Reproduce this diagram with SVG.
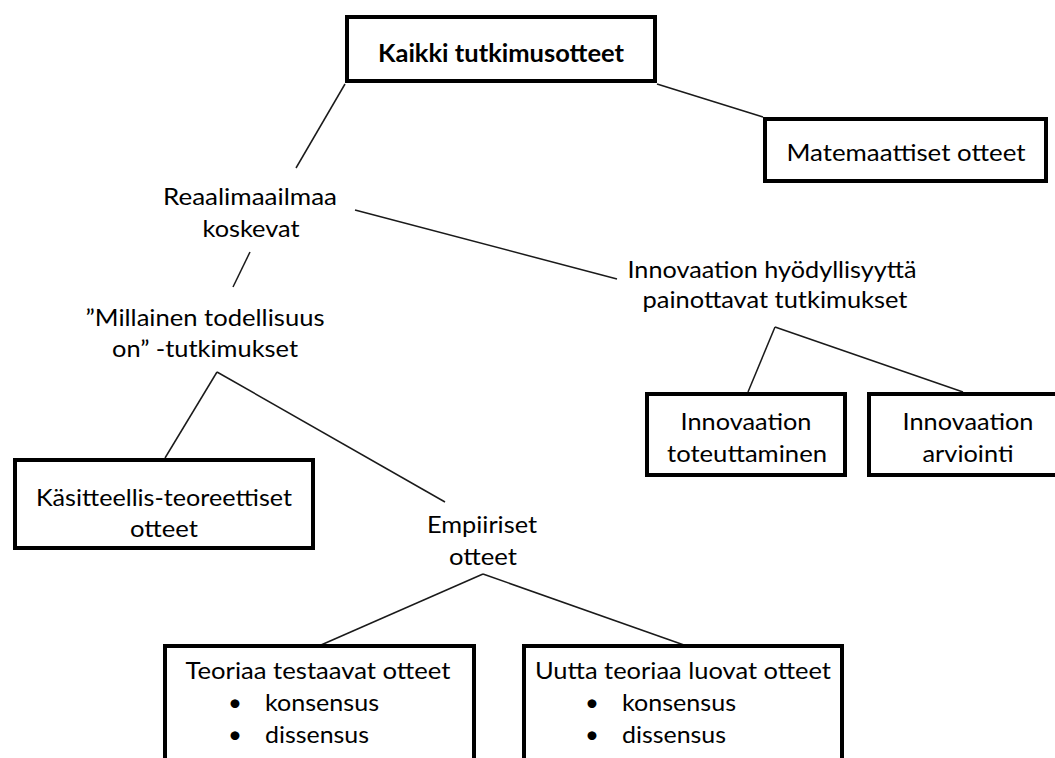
<svg xmlns="http://www.w3.org/2000/svg" width="1055" height="758" viewBox="0 0 1055 758">
<style>
.box{fill:#fff;stroke:#000;stroke-width:4}
.t{font-family:Lato,"Open Sans","Liberation Sans",sans-serif;font-size:24px;fill:#000;text-anchor:middle}
.b{font-weight:bold}
.s{text-anchor:start}
.ln{stroke:#1a1a1a;stroke-width:1.5;fill:none}
</style>
<rect width="1055" height="758" fill="#fff"/>
<g id="connectors">
<line class="ln" x1="345" y1="84" x2="296" y2="168"/>
<line class="ln" x1="657" y1="84" x2="763" y2="117"/>
<line class="ln" x1="355" y1="210" x2="617" y2="279"/>
<line class="ln" x1="250" y1="252" x2="233" y2="287"/>
<line class="ln" x1="217" y1="372" x2="165" y2="458"/>
<line class="ln" x1="217" y1="372" x2="445" y2="502"/>
<line class="ln" x1="775" y1="327" x2="748" y2="392"/>
<line class="ln" x1="775" y1="327" x2="963" y2="392"/>
<line class="ln" x1="483" y1="574" x2="321" y2="645"/>
<line class="ln" x1="483" y1="574" x2="684" y2="645"/>
</g>
<g id="kaikki">
<rect class="box" x="347" y="17" width="308" height="64"/>
<text class="t b" x="501" y="62" textLength="246" lengthAdjust="spacingAndGlyphs">Kaikki tutkimusotteet</text>
</g>
<g id="matemaattiset">
<rect class="box" x="765" y="119" width="281" height="62"/>
<text class="t" x="906" y="161" textLength="239" lengthAdjust="spacingAndGlyphs">Matemaattiset otteet</text>
</g>
<g id="reaalimaailmaa">
<text class="t" x="250" y="205" textLength="174" lengthAdjust="spacingAndGlyphs">Reaalimaailmaa</text>
<text class="t" x="251" y="237" textLength="97" lengthAdjust="spacingAndGlyphs">koskevat</text>
</g>
<g id="millainen">
<text class="t" x="205" y="326" textLength="239" lengthAdjust="spacingAndGlyphs">”Millainen todellisuus</text>
<text class="t" x="205" y="357" textLength="186" lengthAdjust="spacingAndGlyphs">on” -tutkimukset</text>
</g>
<g id="innovaation-hyodyllisyytta">
<text class="t" x="772" y="278" textLength="289" lengthAdjust="spacingAndGlyphs">Innovaation hyödyllisyyttä</text>
<text class="t" x="775" y="308" textLength="265" lengthAdjust="spacingAndGlyphs">painottavat tutkimukset</text>
</g>
<g id="toteuttaminen">
<rect class="box" x="647" y="394" width="198" height="81"/>
<text class="t" x="746" y="430" textLength="131" lengthAdjust="spacingAndGlyphs">Innovaation</text>
<text class="t" x="747" y="462" textLength="160" lengthAdjust="spacingAndGlyphs">toteuttaminen</text>
</g>
<g id="arviointi">
<rect class="box" x="869" y="394" width="192" height="81"/>
<text class="t" x="968" y="430" textLength="131" lengthAdjust="spacingAndGlyphs">Innovaation</text>
<text class="t" x="968" y="462" textLength="91" lengthAdjust="spacingAndGlyphs">arviointi</text>
</g>
<g id="kasitteellis">
<rect class="box" x="15" y="460" width="298" height="88"/>
<text class="t" x="164" y="506" textLength="256" lengthAdjust="spacingAndGlyphs">Käsitteellis-teoreettiset</text>
<text class="t" x="164" y="537" textLength="68" lengthAdjust="spacingAndGlyphs">otteet</text>
</g>
<g id="empiiriset">
<text class="t" x="482" y="533" textLength="110" lengthAdjust="spacingAndGlyphs">Empiiriset</text>
<text class="t" x="483" y="565" textLength="68" lengthAdjust="spacingAndGlyphs">otteet</text>
</g>
<g id="teoriaa-testaavat">
<rect class="box" x="165" y="646" width="309" height="140"/>
<text class="t" x="318" y="679" textLength="265" lengthAdjust="spacingAndGlyphs">Teoriaa testaavat otteet</text>
<text class="t" x="235" y="711">•</text>
<text class="t s" x="265" y="711" textLength="114" lengthAdjust="spacingAndGlyphs">konsensus</text>
<text class="t" x="235" y="743">•</text>
<text class="t s" x="265" y="743" textLength="104" lengthAdjust="spacingAndGlyphs">dissensus</text>
</g>
<g id="uutta-teoriaa">
<rect class="box" x="524" y="646" width="318" height="140"/>
<text class="t" x="683" y="679" textLength="296" lengthAdjust="spacingAndGlyphs">Uutta teoriaa luovat otteet</text>
<text class="t" x="592" y="711">•</text>
<text class="t s" x="622" y="711" textLength="114" lengthAdjust="spacingAndGlyphs">konsensus</text>
<text class="t" x="592" y="743">•</text>
<text class="t s" x="622" y="743" textLength="104" lengthAdjust="spacingAndGlyphs">dissensus</text>
</g>
</svg>
